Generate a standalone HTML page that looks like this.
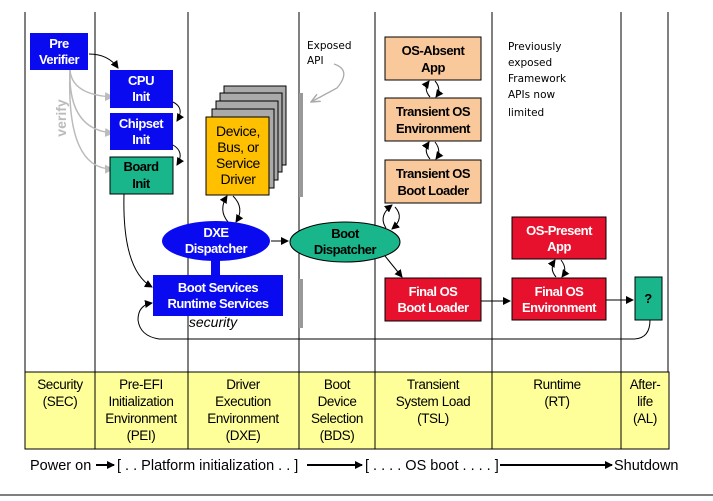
<!DOCTYPE html>
<html><head><meta charset="utf-8"><style>
html,body{margin:0;padding:0;background:#fff;}
svg{display:block;font-family:"Liberation Sans",Arial,sans-serif;}
.w{fill:#fff;font-weight:bold;font-size:13px;text-anchor:middle;letter-spacing:-0.5px;}
.k{fill:#000;font-weight:bold;font-size:13px;text-anchor:middle;letter-spacing:-0.5px;}
.y{fill:#000;font-size:13.5px;text-anchor:middle;letter-spacing:-0.4px;}
.h{font-family:"DejaVu Sans",sans-serif;font-size:10.5px;fill:#000;}
</style></head><body>
<svg width="713" height="501" viewBox="0 0 713 501">
<defs>
<marker id="a" markerWidth="8" markerHeight="8" refX="7" refY="4" orient="auto" markerUnits="userSpaceOnUse"><path d="M0,0 L8,4 L0,8 z" fill="#000"/></marker>
<marker id="g" markerWidth="10" markerHeight="10" refX="9" refY="5" orient="auto" markerUnits="userSpaceOnUse"><path d="M0,1 L9,5 L0,9" fill="none" stroke="#aaa" stroke-width="1.5"/></marker>
<marker id="gf" markerWidth="9" markerHeight="9" refX="8" refY="4.5" orient="auto" markerUnits="userSpaceOnUse"><path d="M0,0 L9,4.5 L0,9 z" fill="#bbb"/></marker>
</defs>
<g stroke="#000" stroke-width="1">
<line x1="25" y1="12" x2="25" y2="372"/><line x1="95" y1="12" x2="95" y2="372"/>
<line x1="188" y1="12" x2="188" y2="372"/><line x1="299" y1="12" x2="299" y2="372"/>
<line x1="375" y1="12" x2="375" y2="372"/><line x1="492" y1="12" x2="492" y2="372"/>
<line x1="621" y1="12" x2="621" y2="372"/><line x1="668" y1="12" x2="668" y2="372"/>
</g>
<rect x="25" y="372" width="644" height="77" fill="#ffff99" stroke="#000"/>
<g stroke="#000"><line x1="95" y1="372" x2="95" y2="449"/><line x1="188" y1="372" x2="188" y2="449"/><line x1="299" y1="372" x2="299" y2="449"/><line x1="375" y1="372" x2="375" y2="449"/><line x1="492" y1="372" x2="492" y2="449"/><line x1="621" y1="372" x2="621" y2="449"/></g>
<g class="y">
<text x="60" y="389">Security</text><text x="60" y="406">(SEC)</text>
<text x="141" y="389">Pre-EFI</text><text x="141" y="406">Initialization</text><text x="141" y="423">Environment</text><text x="141" y="440">(PEI)</text>
<text x="243" y="389">Driver</text><text x="243" y="406">Execution</text><text x="243" y="423">Environment</text><text x="243" y="440">(DXE)</text>
<text x="337" y="389">Boot</text><text x="337" y="406">Device</text><text x="337" y="423">Selection</text><text x="337" y="440">(BDS)</text>
<text x="433" y="389">Transient</text><text x="433" y="406">System Load</text><text x="433" y="423">(TSL)</text>
<text x="557" y="389">Runtime</text><text x="557" y="406">(RT)</text>
<text x="645" y="389">After-</text><text x="645" y="406">life</text><text x="645" y="423">(AL)</text>
</g>
<text x="30" y="470" font-size="14.5">Power on</text>
<line x1="96" y1="465" x2="114" y2="465" stroke="#000" stroke-width="2" marker-end="url(#a)"/>
<text x="117" y="470" font-size="14.5">[ . . Platform initialization . . ]</text>
<line x1="307" y1="465" x2="362" y2="465" stroke="#000" stroke-width="2" marker-end="url(#a)"/>
<text x="365" y="470" font-size="14.5">[ . . . . OS boot . . . . ]</text>
<line x1="500" y1="465" x2="612" y2="465" stroke="#000" stroke-width="2" marker-end="url(#a)"/>
<text x="614" y="470" font-size="14.5">Shutdown</text>
<line x1="0" y1="495" x2="713" y2="495" stroke="#000"/>

<rect x="299" y="93" width="4" height="104" fill="#999"/>
<rect x="299" y="279" width="4" height="49" fill="#999"/>

<g fill="none" stroke="#bbb" stroke-width="1.5">
<path d="M70,70 Q72,95 113,97" marker-end="url(#gf)"/>
<path d="M70,70 Q68,130 113,133" marker-end="url(#gf)"/>
<path d="M70,70 Q66,170 113,169" marker-end="url(#gf)"/>
</g>
<text x="66" y="118" transform="rotate(-90 66 118)" font-size="14" font-weight="bold" fill="#bbb" text-anchor="middle">verify</text>

<rect x="30" y="33" width="58" height="37" fill="#0a0af0"/>
<text class="w" x="59" y="48" font-size="14">Pre</text><text class="w" x="59" y="64" font-size="14">Verifier</text>
<path d="M89,54 Q108,54 118,68" fill="none" stroke="#000" marker-end="url(#a)"/>
<rect x="110" y="70" width="63" height="38" fill="#0a0af0"/>
<text class="w" x="141" y="85" font-size="14">CPU</text><text class="w" x="141" y="101" font-size="14">Init</text>
<rect x="110" y="113" width="63" height="37" fill="#0a0af0"/>
<text class="w" x="141" y="128" font-size="14">Chipset</text><text class="w" x="141" y="144" font-size="14">Init</text>
<rect x="110" y="157" width="63" height="37" fill="#19b68c" stroke="#000"/>
<text class="k" x="141" y="171" font-size="14" font-weight="normal">Board</text><text class="k" x="141" y="188" font-size="14" font-weight="normal">Init</text>
<path d="M173,102 Q185,108 177,121" fill="none" stroke="#000" marker-end="url(#a)"/>
<path d="M173,145 Q185,152 177,165" fill="none" stroke="#000" marker-end="url(#a)"/>
<path d="M124,194 Q122,270 152,287" fill="none" stroke="#000" marker-end="url(#a)"/>

<g fill="#aaa" stroke="#000">
<rect x="224" y="86" width="62" height="79"/>
<rect x="220" y="93" width="62" height="79"/>
<rect x="216" y="101" width="62" height="79"/>
<rect x="212" y="109" width="62" height="79"/>
</g>
<rect x="206" y="117" width="63" height="78" fill="#ffc000" stroke="#000"/>
<g class="y" style="font-size:14px">
<text x="238" y="136">Device,</text><text x="238" y="152">Bus, or</text><text x="238" y="168">Service</text><text x="238" y="184">Driver</text>
</g>
<path d="M228,222 Q218,210 227,196" fill="none" stroke="#000" marker-end="url(#a)"/>
<path d="M233,196 Q245,208 236,222" fill="none" stroke="#000" marker-end="url(#a)"/>

<rect x="211" y="255" width="9" height="22" fill="#0a0af0"/>
<ellipse cx="216" cy="241" rx="54" ry="20" fill="#0a0af0"/>
<text class="w" x="216" y="237" font-size="14">DXE</text><text class="w" x="216" y="253" font-size="14">Dispatcher</text>
<line x1="271" y1="241" x2="288" y2="241" stroke="#000" marker-end="url(#a)"/>
<rect x="153" y="275" width="130" height="41" fill="#0a0af0"/>
<text class="w" x="218" y="292" font-size="14">Boot Services</text><text class="w" x="218" y="308" font-size="14">Runtime Services</text>
<text x="213" y="327" font-size="14" font-style="italic" text-anchor="middle">security</text>

<ellipse cx="345" cy="242" rx="55" ry="20" fill="#19b68c" stroke="#000"/>
<text class="k" x="345" y="238" font-size="14" font-weight="normal">Boot</text><text class="k" x="345" y="254" font-size="14" font-weight="normal">Dispatcher</text>

<text class="h" x="307" y="49">Exposed</text><text class="h" x="307" y="64">API</text>
<path d="M334,64 Q352,70 337,88 L311,102" fill="none" stroke="#aaa" stroke-width="1.3" marker-end="url(#g)"/>

<rect x="385" y="37" width="96" height="43" fill="#f9c89b" stroke="#000"/>
<text class="k" x="433" y="55" font-size="14" font-weight="normal">OS-Absent</text><text class="k" x="433" y="72" font-size="14" font-weight="normal">App</text>
<rect x="385" y="98" width="96" height="43" fill="#f9c89b" stroke="#000"/>
<text class="k" x="433" y="116" font-size="14" font-weight="normal">Transient OS</text><text class="k" x="433" y="133" font-size="14" font-weight="normal">Environment</text>
<rect x="385" y="160" width="96" height="43" fill="#f9c89b" stroke="#000"/>
<text class="k" x="433" y="178" font-size="14" font-weight="normal">Transient OS</text><text class="k" x="433" y="195" font-size="14" font-weight="normal">Boot Loader</text>
<path d="M430,97 Q423,89 429,81" fill="none" stroke="#000" marker-end="url(#a)"/>
<path d="M435,81 Q442,89 436,97" fill="none" stroke="#000" marker-end="url(#a)"/>
<path d="M430,159 Q423,151 429,142" fill="none" stroke="#000" marker-end="url(#a)"/>
<path d="M435,142 Q442,151 436,159" fill="none" stroke="#000" marker-end="url(#a)"/>
<path d="M386,228 Q378,216 392,205" fill="none" stroke="#000" marker-end="url(#a)"/>
<path d="M395,207 Q405,218 392,229" fill="none" stroke="#000" marker-end="url(#a)"/>
<path d="M385,256 L402,277" fill="none" stroke="#000" marker-end="url(#a)"/>

<g class="h" font-size="11">
<text x="508" y="50">Previously</text><text x="508" y="66">exposed</text><text x="508" y="82">Framework</text><text x="508" y="98">APIs now</text><text x="508" y="116">limited</text>
</g>

<rect x="385" y="278" width="96" height="43" fill="#e8112d" stroke="#000"/>
<text class="w" x="433" y="296" font-size="14">Final OS</text><text class="w" x="433" y="312" font-size="14">Boot Loader</text>
<line x1="481" y1="301" x2="510" y2="301" stroke="#000" marker-end="url(#a)"/>
<rect x="512" y="217" width="94" height="42" fill="#e8112d" stroke="#000"/>
<text class="w" x="559" y="235" font-size="14">OS-Present</text><text class="w" x="559" y="251" font-size="14">App</text>
<rect x="512" y="278" width="94" height="42" fill="#e8112d" stroke="#000"/>
<text class="w" x="559" y="296" font-size="14">Final OS</text><text class="w" x="559" y="312" font-size="14">Environment</text>
<path d="M556,277 Q549,269 555,260" fill="none" stroke="#000" marker-end="url(#a)"/>
<path d="M561,260 Q568,269 562,277" fill="none" stroke="#000" marker-end="url(#a)"/>
<line x1="606" y1="300" x2="633" y2="300" stroke="#000" marker-end="url(#a)"/>
<rect x="635" y="277" width="27" height="43" fill="#19b68c" stroke="#000"/>
<text class="k" x="648" y="303" font-size="14" font-weight="normal">?</text>

<path d="M650,320 Q650,339 633,339 L159,339 Q140,336 138,320 Q138,305 152,303" fill="none" stroke="#000" marker-end="url(#a)"/>
</svg>
</body></html>
